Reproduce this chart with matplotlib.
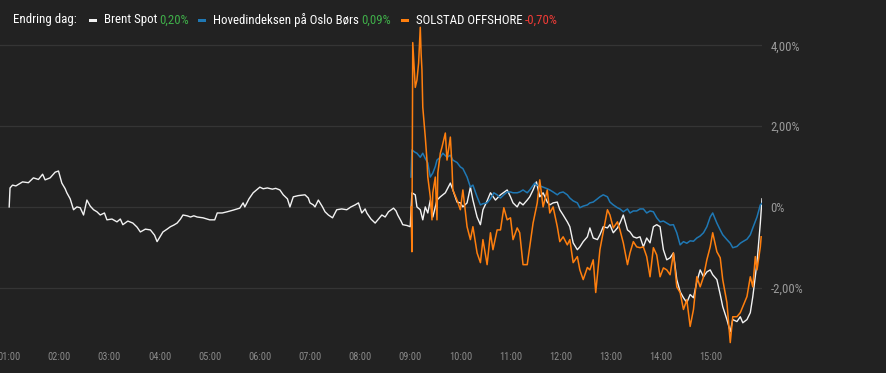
import matplotlib
matplotlib.use('Agg')
import matplotlib.pyplot as plt
from matplotlib.patches import Rectangle
from matplotlib import font_manager

# ---------------- data (minutes since midnight, % change) ----------------
brent_t = [60, 61, 64, 68, 76, 83, 89, 95, 100, 103, 109, 115, 119, 123, 127, 129, 133, 137,
           141, 145, 149, 153, 157, 161, 165, 169, 174, 177, 183, 189, 193, 196, 202, 208,
           213, 217, 223, 229, 234, 237, 241, 244, 249, 253, 257, 261, 265, 268, 273, 277,
           281, 285, 292, 300, 306, 309, 315, 321, 328, 336, 340, 342, 347, 352, 356, 360,
           364, 369, 375, 379, 384, 388, 393, 396, 400, 406, 414, 418, 420, 424, 426, 430,
           435, 438, 442, 447, 452, 458, 464, 469, 474, 478, 482, 486, 488, 493, 498, 502,
           506, 510, 514, 520, 523, 525, 529, 531, 536, 540, 542, 546, 548, 552, 555, 558,
           561, 564, 567, 572, 576, 582, 588, 591, 596, 600, 603, 608, 612, 615, 620, 624,
           627, 632, 636, 642, 648, 656, 660, 663, 668, 671, 675, 680, 683, 687, 691, 695,
           699, 704, 707, 711, 716, 719, 723, 728, 731, 735, 740, 743, 747, 752, 755, 759,
           764, 767, 771, 776, 779, 783, 788, 791, 795, 800, 803, 807, 811, 815, 819, 823,
           827, 831, 835, 839, 843, 847, 851, 855, 859, 863, 867, 871, 875, 879, 883, 887,
           891, 895, 899, 902, 907, 911, 914, 919, 923, 926, 931, 935, 938, 943, 947, 950,
           955, 959, 961]
brent_v = [0.0, 0.47, 0.54, 0.52, 0.62, 0.60, 0.72, 0.68, 0.81, 0.67, 0.72, 0.86, 0.89, 0.59,
           0.45, 0.35, 0.20, -0.07, 0.0, -0.02, -0.20, 0.17, 0.02, -0.07, -0.12, -0.20, -0.15,
           -0.32, -0.30, -0.37, -0.30, -0.44, -0.35, -0.40, -0.50, -0.62, -0.55, -0.57, -0.70,
           -0.86, -0.72, -0.62, -0.55, -0.49, -0.45, -0.40, -0.30, -0.20, -0.22, -0.25, -0.22,
           -0.25, -0.27, -0.32, -0.32, -0.15, -0.15, -0.12, -0.08, -0.03, 0.10, 0.0, 0.20,
           0.35, 0.42, 0.49, 0.45, 0.47, 0.44, 0.46, 0.42, 0.30, 0.20, 0.0, 0.25, 0.28, 0.30,
           0.22, 0.10, 0.05, 0.0, 0.17, 0.0, -0.12, -0.20, -0.27, -0.07, -0.05, -0.07, 0.0,
           0.05, 0.10, -0.15, -0.05, -0.15, -0.30, -0.40, -0.30, -0.20, -0.25, -0.12, -0.03,
           -0.10, -0.20, -0.35, -0.44, -0.46, -0.49, 0.35, 0.30, 0.0, -0.07, -0.32, 0.0,
           -0.15, 0.17, -0.25, 0.17, 0.25, 0.35, 0.59, 0.42, 0.12, 0.10, 0.0, 0.10, 0.49,
           0.17, -0.25, -0.44, -0.07, 0.15, 0.35, 0.17, 0.30, 0.42, 0.25, 0.10, 0.0, 0.12,
           0.05, 0.17, 0.25, 0.42, 0.62, 0.25, 0.35, 0.12, 0.05, 0.10, 0.12, -0.07, -0.20,
           -0.37, -0.49, -0.89, -1.06, -0.99, -0.86, -0.74, -0.52, -0.77, -0.81, -0.69, -0.49,
           -0.52, -0.44, -0.64, -0.52, -0.40, -0.20, -0.57, -0.62, -0.74, -0.77, -0.74, -0.99,
           -0.77, -0.89, -0.49, -0.44, -0.49, -1.06, -1.31, -1.26, -1.14, -1.80, -2.10, -2.25,
           -2.37, -2.17, -2.25, -1.85, -1.56, -1.73, -1.61, -1.56, -1.68, -1.80, -2.17, -2.47,
           -2.79, -3.09, -2.79, -2.84, -2.72, -2.87, -2.79, -2.62, -2.22, -1.38, -0.40, 0.20]

obx_t = [541, 542, 546, 548, 552, 555, 558, 561, 564, 567, 570, 572, 576, 579, 584, 588, 591,
         596, 600, 603, 608, 612, 615, 620, 624, 627, 632, 636, 640, 644, 648, 652, 656, 660,
         663, 668, 671, 675, 680, 683, 689, 691, 695, 699, 704, 707, 711, 716, 719, 723, 728,
         731, 735, 740, 743, 747, 752, 755, 759, 764, 767, 771, 776, 779, 783, 788, 791, 795,
         800, 803, 807, 811, 815, 819, 823, 827, 831, 835, 839, 843, 847, 851, 855, 859, 863,
         867, 871, 875, 879, 883, 887, 891, 895, 899, 902, 907, 911, 914, 919, 923, 926, 931,
         935, 938, 943, 947, 950, 955, 959, 961]
obx_v = [0.74, 1.41, 1.35, 1.33, 1.23, 1.33, 1.20, 1.09, 0.74, 0.84, 1.00, 1.16, 1.23, 1.33,
         1.23, 1.28, 1.16, 1.10, 0.99, 0.95, 0.74, 0.49, 0.54, 0.25, 0.05, 0.08, 0.10, 0.20,
         0.35, 0.30, 0.22, 0.30, 0.37, 0.37, 0.35, 0.35, 0.37, 0.42, 0.35, 0.42, 0.59, 0.54,
         0.52, 0.49, 0.45, 0.42, 0.37, 0.30, 0.35, 0.37, 0.30, 0.22, 0.15, 0.10, -0.02, 0.02,
         0.05, 0.10, 0.12, 0.20, 0.25, 0.30, 0.25, 0.12, 0.05, -0.02, -0.05, -0.12, -0.05,
         -0.15, -0.10, -0.10, -0.05, -0.05, -0.15, -0.10, -0.12, -0.27, -0.37, -0.35, -0.40,
         -0.45, -0.44, -0.64, -0.94, -0.86, -0.90, -0.84, -0.85, -0.77, -0.72, -0.64, -0.49,
         -0.25, -0.15, -0.40, -0.57, -0.69, -0.81, -0.90, -1.01, -0.98, -0.90, -0.86, -0.80,
         -0.69, -0.52, -0.25, 0.05, 0.09]

solstad_t = [541, 542, 543, 546, 548, 550, 552, 553, 554, 555, 558, 560, 561, 564, 566, 567,
             570, 572, 573, 576, 578, 582, 584, 588, 590, 591, 596, 600, 603, 608, 612, 615,
             620, 624, 627, 632, 636, 639, 644, 648, 652, 656, 660, 663, 668, 671, 675, 680,
             683, 687, 692, 695, 699, 704, 707, 711, 716, 719, 723, 728, 731, 735, 740, 743,
             747, 752, 755, 759, 762, 767, 771, 776, 779, 783, 788, 791, 795, 800, 803, 807,
             811, 815, 819, 823, 827, 831, 835, 839, 843, 847, 851, 855, 859, 863, 867, 871,
             875, 879, 883, 887, 891, 895, 899, 902, 907, 911, 914, 919, 923, 926, 931, 935,
             938, 943, 947, 950, 953, 955, 959, 960]
solstad_v = [0.0, -1.11, 4.07, 2.96, 3.14, 3.56, 4.45, 3.80, 3.40, 2.47, 1.73, 1.16, 0.74,
             0.25, -0.32, 0.35, 0.74, -0.32, 0.84, 1.33, 1.48, 1.83, 1.16, 1.73, 0.99, 0.42,
             0.17, -0.07, 0.42, -0.49, -0.81, -0.49, -1.14, -1.38, -0.81, -1.43, -0.64, -1.06,
             -0.57, -0.57, -0.02, -0.32, -0.27, -0.81, -0.52, -0.64, -1.43, -1.43, -0.99,
             -0.40, 0.10, 0.67, 0.0, 0.42, -0.15, 0.0, -0.49, -0.86, -0.74, -0.94, -0.81, -1.38,
             -1.23, -1.56, -1.80, -1.50, -1.56, -1.31, -2.12, -1.06, -0.62, -0.07, -0.20,
             -0.52, -0.37, -0.57, -0.89, -1.43, -1.14, -0.86, -0.99, -1.01, -0.99, -1.23,
             -1.73, -1.01, -1.19, -1.73, -1.51, -1.56, -1.68, -1.14, -1.98, -2.12, -2.54,
             -2.30, -2.96, -2.54, -1.73, -1.98, -1.73, -1.31, -0.99, -0.64, -1.11, -1.26,
             -1.80, -2.37, -3.36, -2.72, -2.72, -2.62, -2.47, -2.22, -1.73, -1.98, -1.23,
             -1.56, -0.99, -0.74]

hour_ticks = [60, 120, 180, 240, 300, 360, 420, 480, 540, 600, 660, 720, 780, 840, 900]
hour_labels = ['01:00', '02:00', '03:00', '04:00', '05:00', '06:00', '07:00', '08:00',
               '09:00', '10:00', '11:00', '12:00', '13:00', '14:00', '15:00']
pct_ticks = [-2, 0, 2, 4]
pct_labels = ['-2,00%', '0%', '2,00%', '4,00%']

legend_title = 'Endring dag:'
series_names = ['Brent Spot', 'Hovedindeksen på Oslo Børs', 'SOLSTAD OFFSHORE']
series_changes = ['0,20%', '0,09%', '-0,70%']

# ---------------- style ----------------
BG = '#222222'
GRID = '#353535'
C_WHITE = '#f2f2f2'
C_BLUE = '#1f78b4'
C_ORANGE = '#ff7f0e'
C_GREEN = '#3fae49'
C_RED = '#ef3b36'

installed = {f.name for f in font_manager.fontManager.ttflist}
cands = ['Liberation Sans Narrow', 'Roboto Condensed', 'Open Sans Condensed',
         'Noto Sans Condensed', 'Roboto', 'DejaVu Sans']
FONT = [c for c in cands if c in installed] or ['DejaVu Sans']
plt.rcParams['font.family'] = FONT
condensed = FONT[0] != 'Roboto'

W, H = 886, 373
fig = plt.figure(figsize=(W / 100, H / 100), dpi=100, facecolor=BG)
ax = fig.add_axes([0, 1 - 345 / H, 762 / W, (345 - 22) / H])
ax.set_facecolor(BG)

ax.plot(brent_t, brent_v, color=C_WHITE, lw=1.0, zorder=3)
ax.plot(obx_t, obx_v, color=C_BLUE, lw=1.1, zorder=4)
ax.plot(solstad_t, solstad_v, color=C_ORANGE, lw=1.1, zorder=5)

ax.set_xlim(49, 961)
ax.set_ylim(-3.42, 4.58)
ax.set_xticks(hour_ticks)
ax.set_xticklabels(hour_labels)
ax.set_yticks(pct_ticks)
ax.set_yticklabels(pct_labels)
ax.yaxis.tick_right()
ax.tick_params(axis='x', length=0, pad=5, labelsize=7.5, labelcolor='#8a8a8a')
ax.tick_params(axis='y', length=0, pad=6, labelsize=9.2, labelcolor='#9a9a9a')
ax.grid(axis='y', color=GRID, lw=0.9)
ax.grid(axis='x', visible=False)
ax.set_axisbelow(True)
for s in ax.spines.values():
    s.set_visible(False)

# ---------------- legend line ----------------
renderer = fig.canvas.get_renderer()
y_leg = 1 - 20 / H
fs = 9.3 if condensed else 8.6
cur = [13]

def put_text(s, color, gap):
    t = fig.text(cur[0] / W, y_leg, s, color=color, fontsize=fs, ha='left', va='center')
    bb = t.get_window_extent(renderer)
    cur[0] += bb.width + gap

def put_marker(color):
    fig.patches.append(Rectangle((cur[0] / W, y_leg - 1.5 / H), 8 / W, 3 / H,
                                 transform=fig.transFigure, facecolor=color,
                                 edgecolor='none', figure=fig))
    cur[0] += 8 + 7

put_text(legend_title, '#ffffff', 12)
colors = [C_WHITE, C_BLUE, C_ORANGE]
for name, chg, col in zip(series_names, series_changes, colors):
    put_marker(col)
    put_text(name, '#ffffff', 2.5)
    put_text(chg, C_RED if chg.startswith('-') else C_GREEN, 9)

fig.savefig('out.png', dpi=100, facecolor=BG)
